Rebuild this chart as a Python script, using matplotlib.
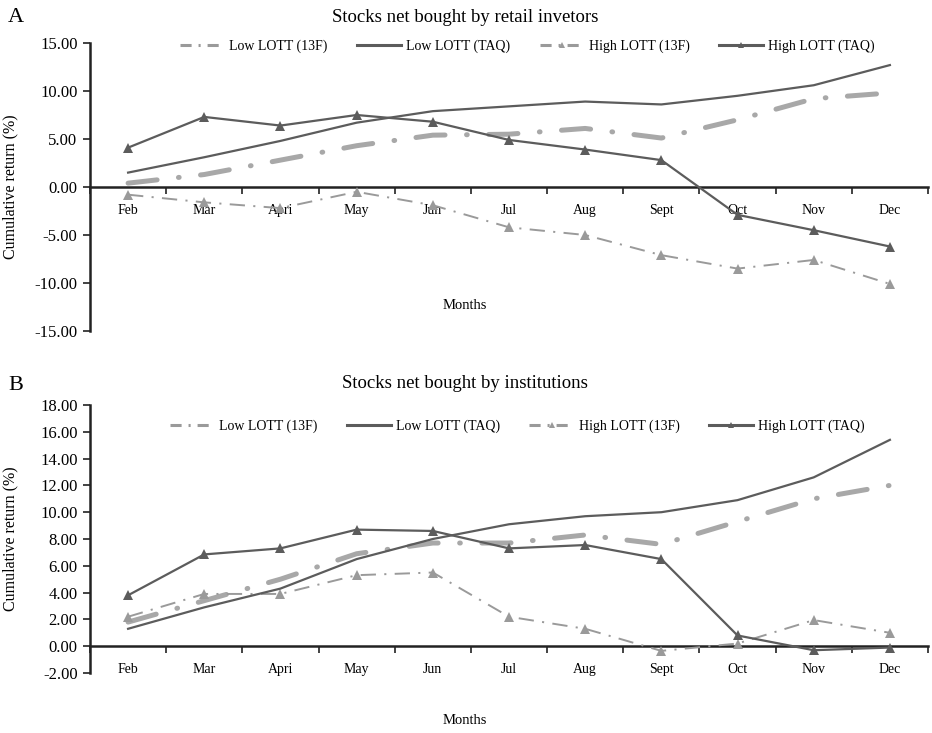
import matplotlib
matplotlib.use("Agg")
import matplotlib.pyplot as plt
from matplotlib.lines import Line2D
import numpy as np

plt.rcParams['font.family'] = ['Liberation Serif', 'DejaVu Serif']
plt.rcParams['lines.scale_dashes'] = False

months = ["Feb", "Mar", "Apri", "May", "Jun", "Jul", "Aug", "Sept", "Oct", "Nov", "Dec"]
series_names = ["Low LOTT (13F)", "Low LOTT (TAQ)", "High LOTT (13F)", "High LOTT (TAQ)"]

# Panel A: stocks net bought by retail investors
retail_low_13f = [0.4, 1.3, 2.8, 4.3, 5.4, 5.5, 6.1, 5.1, 7.0, 9.2, 9.8]
retail_low_taq = [1.5, 3.1, 4.8, 6.7, 7.9, 8.4, 8.9, 8.6, 9.5, 10.6, 12.7]
retail_high_13f = [-0.8, -1.6, -2.2, -0.5, -1.9, -4.2, -5.0, -7.1, -8.5, -7.6, -10.1]
retail_high_taq = [4.1, 7.3, 6.4, 7.5, 6.8, 4.9, 3.9, 2.8, -2.9, -4.5, -6.2]

# Panel B: stocks net bought by institutions
inst_low_13f = [1.8, 3.4, 5.0, 6.9, 7.7, 7.7, 8.3, 7.6, 9.3, 11.0, 12.0]
inst_low_taq = [1.3, 2.9, 4.3, 6.5, 8.0, 9.1, 9.7, 10.0, 10.9, 12.6, 15.4]
inst_high_13f = [2.2, 3.9, 3.9, 5.3, 5.5, 2.2, 1.3, -0.35, 0.2, 1.95, 1.0]
inst_high_taq = [3.8, 6.85, 7.3, 8.7, 8.6, 7.3, 7.55, 6.5, 0.8, -0.3, -0.1]

DARK = "#5c5c5c"
LIGHT = "#9a9a9a"
THICK = "#a8a8a8"

fig = plt.figure(figsize=(9.32, 7.33), dpi=100)
W, H = 932, 733


def add_axes_px(left, top, right, bottom):
    return fig.add_axes([left / W, 1 - bottom / H, (right - left) / W, (bottom - top) / H])


def draw_panel(ax, data, ylim, ystep, legend_xy):
    x = np.arange(len(months))
    low13, lowtaq, high13, hightaq = data
    ax.plot(x, low13, color=THICK, lw=3.6, dashes=(21, 15.5, 0.5, 15.5),
            dash_capstyle='round', solid_capstyle='round', zorder=3)
    ax.plot(x, lowtaq, color=DARK, lw=1.6, zorder=4)
    ax.plot(x, high13, color=LIGHT, lw=1.4, dashes=(11, 6, 1.5, 6),
            marker='^', markersize=7, markeredgewidth=0, zorder=3)
    ax.plot(x, hightaq, color=DARK, lw=1.6, marker='^', markersize=7,
            markeredgewidth=0, zorder=4)

    ax.set_xlim(-0.5, len(months) - 0.5)
    ax.set_ylim(*ylim)
    yt = np.arange(ylim[0], ylim[1] + 0.001, ystep)
    ax.set_yticks(yt)
    ax.set_yticklabels([f"{v:.2f}" for v in yt], fontsize=12)
    ax.set_xticks(x)
    ax.set_xticklabels(months, fontsize=12.5)
    ax.set_xticks(np.arange(-0.5, len(months)), minor=True)
    ax.tick_params(axis='x', which='major', length=0, pad=12)
    ax.tick_params(axis='x', which='minor', length=5, width=1.2, direction='out', color='#222222')
    ax.tick_params(axis='y', length=5, width=1.2, direction='out', color='#222222', pad=4)

    for s in ('top', 'right'):
        ax.spines[s].set_visible(False)
    ax.spines['bottom'].set_position(('data', 0))
    for s in ('bottom', 'left'):
        ax.spines[s].set_linewidth(1.8)
        ax.spines[s].set_color('#222222')
    ax.spines['bottom'].set_zorder(2)
    ax.set_ylabel("Cumulative return (%)", fontsize=11.5)
    ax.yaxis.set_label_coords(-0.085, 0.5)

    handles = [
        Line2D([], [], color=LIGHT, lw=2.2, dashes=(8, 5, 1.5, 5)),
        Line2D([], [], color=DARK, lw=2.2),
        Line2D([], [], color=LIGHT, lw=2.2, dashes=(8, 5, 1.5, 5), marker='^',
               markersize=4, markeredgewidth=0),
        Line2D([], [], color=DARK, lw=2.2, marker='^', markersize=4, markeredgewidth=0),
    ]
    ax.legend(handles, series_names, ncol=4, frameon=False, fontsize=10,
              loc='center', bbox_to_anchor=legend_xy,
              handlelength=3.2, columnspacing=2.1, handletextpad=0.35)
    return ax


axA = add_axes_px(90, 43, 928, 331)
draw_panel(axA, (retail_low_13f, retail_low_taq, retail_high_13f, retail_high_taq),
           (-15, 15), 5, (0.522, 0.99))
axB = add_axes_px(90, 405, 928, 673)
draw_panel(axB, (inst_low_13f, inst_low_taq, inst_high_13f, inst_high_taq),
           (-2, 18), 2, (0.51, 0.92))

fig.text(465 / W, 1 - 17 / H, "Stocks net bought by retail invetors", ha='center', va='center', fontsize=13.5)
fig.text(8 / W, 1 - 17 / H, "A", ha='left', va='center', fontsize=16)
fig.text(465 / W, 1 - 305 / H, "Months", ha='center', va='center', fontsize=10.5)

fig.text(465 / W, 1 - 384 / H, "Stocks net bought by institutions", ha='center', va='center', fontsize=13.5)
fig.text(8 / W, 1 - 385 / H, "B", ha='left', va='center', fontsize=16)
fig.text(465 / W, 1 - 720 / H, "Months", ha='center', va='center', fontsize=10.5)

fig.savefig("out.png", dpi=100)
